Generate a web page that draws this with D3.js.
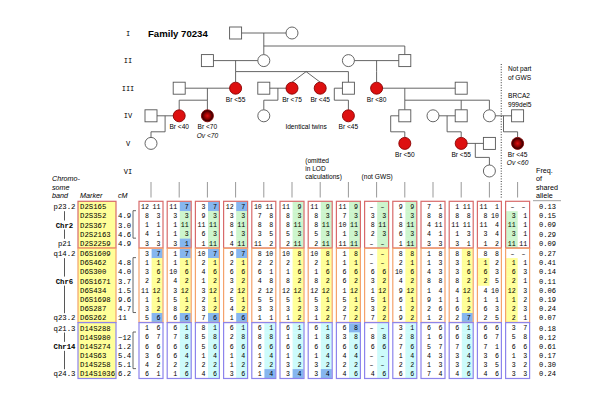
<!DOCTYPE html>
<html><head><meta charset="utf-8">
<script src="https://cdn.jsdelivr.net/npm/d3@7"></script>
<style>body{margin:0;background:#fff}</style>
</head><body>
<svg id="c" width="600" height="400"></svg>
<script>
// ---------------- DATA ----------------
const generations = ["I","II","III","IV","V","VI"];
// [id, generation, slot, sex, status(0 none,1 breast,2 breast+ovarian), label]
const individuals = [
  ["I-1",1,3,"m",0,""],["I-2",1,5,"f",0,""],
  ["II-1",2,2,"m",0,""],["II-2",2,4,"f",0,""],["II-3",2,7,"f",0,""],["II-4",2,9,"m",0,""],
  ["III-1",3,1,"m",0,""],["III-2",3,3,"f",1,"Br <55"],["III-3",3,4,"m",0,""],["III-4",3,5,"f",1,"Br <75"],
  ["III-5",3,6,"f",1,"Br <45"],["III-6",3,7,"m",0,""],["III-7",3,8,"f",1,"Br <80"],["III-8",3,11,"m",0,""],
  ["IV-1",4,0,"m",0,""],["IV-2",4,1,"f",1,"Br <40"],["IV-3",4,2,"f",2,"Br <70|Ov <70"],["IV-4",4,4,"f",0,""],
  ["IV-5",4,7,"f",1,"Br <45"],["IV-6",4,9,"m",0,""],["IV-7",4,10,"f",0,""],["IV-8",4,11,"m",0,""],
  ["IV-9",4,12,"f",0,""],["IV-10",4,13,"m",0,""],
  ["V-1",5,0,"f",0,""],["V-2",5,9,"f",1,"Br <50"],["V-3",5,11,"f",1,"Br <55"],["V-4",5,12,"m",0,""],
  ["V-5",5,13,"f",2,"Br <45|Ov <60"],
  ["VI-1",6,12,"f",0,""]
];
const marriages = [["I-1","I-2"],["II-1","II-2"],["II-3","II-4"],["III-1","III-2"],["III-3","III-4"],
  ["III-7","III-8"],["IV-1","IV-2"],["IV-7","IV-8"],["IV-9","IV-10"],["V-3","V-4"]];
// [parent generation, drop slot, children, single parent (stub) id]
const descents = [
  [1,4,["II-2","II-4"],null],
  [2,3,["III-2","III-4","III-5","III-6"],null],
  [2,8,["III-7"],null],
  [3,2,["IV-2","IV-3"],null],
  [3,4.5,["IV-4"],null],
  [3,6.5,["IV-5"],"III-6"],
  [3,9,["IV-6","IV-8","IV-9"],null],
  [4,0.5,["V-1"],null],
  [4,8.5,["V-2"],"IV-6"],
  [4,10.5,["V-3"],null],
  [4,12.5,["V-5"],null],
  [5,11.5,["VI-1"],null]
];
const twins = [["III-4","III-5"]];

const markers = ["D2S165","D2S352","D2S367","D2S2163","D2S2259",
  "D6S1609","D6S462","D6S300","D6S1671","D6S434","D6S1698","D6S287","D6S262",
  "D14S288","D14S980","D14S274","D14S63","D14S258","D14S1036"];
const markerChr = [0,0,0,0,0,1,1,1,1,1,1,1,1,2,2,2,2,2,2];
const cM = ["","4.9","3.0","4.6","4.9","","4.8","4.0","3.7","1.5","9.6","4.7","11","","~12","1.2","5.4","5.1","6.2"];
const chromosomes = ["Chr2","Chr6","Chr14"];
const chrLabelRow = [2,8,15];
const bandTop = ["p23.2","q14.2","q21.3"];
const bandBottom = ["p21","q23.2","q24.3"];
const freq = ["0.13","0.15","0.09","0.29","0.09","0.27","0.41","0.14","0.11","0.06","0.19","0.24","0.07",
  "0.18","0.12","0.61","0.17","0.30","0.24"];
// genotypes per typed individual (column), one entry per marker
const genotypes = [
 "12 11,8 3,1 1,4 1,3 3,3 7,1 1,3 6,2 2,11 12,1 1,3 2,5 6,1 6,6 7,6 6,3 6,4 2,6 1",
 "11 7,3 3,1 11,1 3,3 1,1 7,1 1,10 6,4 2,3 12,5 1,8 2,6 6,6 1,7 8,6 6,6 4,2 2,1 6",
 "3 7,9 3,11 11,6 3,1 11,10 7,2 1,4 6,1 2,3 12,2 1,3 2,7 6,8 1,5 8,5 6,1 4,2 2,4 6",
 "12 7,3 3,8 11,1 3,4 11,9 7,2 1,6 6,3 2,2 12,5 1,4 2,1 6,6 1,2 8,6 6,1 4,1 2,3 6",
 "10 11,7 8,8 8,3 5,11 2,8 10,2 2,6 1,4 8,2 12,5 5,3 3,1 1,6 1,8 8,6 6,1 4,2 2,1 4",
 "11 9,8 3,8 11,5 3,2 11,10 8,2 1,1 6,8 2,12 12,5 1,3 2,1 2,6 1,1 8,6 6,1 4,3 2,3 4",
 "11 9,8 3,8 11,5 3,2 11,10 8,2 1,1 6,8 2,12 12,5 1,3 2,1 2,6 1,1 8,6 6,1 4,3 2,3 4",
 "11 9,7 3,10 11,1 3,11 11,1 8,1 1,6 6,6 2,1 12,5 1,2 2,7 2,6 8,3 8,6 6,4 4,2 2,4 6",
 "- -,3 3,8 11,2 3,- -,- -,- -,6 6,3 2,1 12,5 1,3 2,7 2,- -,8 8,6 6,- -,- -,4 6",
 "9 9,1 3,8 11,6 3,1 11,8 8,2 1,10 6,4 2,9 12,6 1,1 2,9 2,3 1,2 8,7 6,1 4,2 2,6 6",
 "7 1,8 8,4 11,4 1,3 3,1 8,1 3,4 3,8 8,1 4,9 1,2 6,1 2,6 6,1 6,5 7,4 3,1 3,7 4",
 "1 11,8 8,11 11,1 3,3 1,8 8,3 1,3 6,8 2,4 12,1 1,6 2,2 7,6 1,6 8,7 6,3 4,3 2,4 6",
 "11 1,8 10,11 4,3 4,1 2,8 8,1 2,6 3,2 5,4 10,1 1,6 3,2 5,6 6,6 7,7 1,3 6,3 5,4 6",
 "- -,3 1,11 1,3 1,11 11,- -,1 1,6 3,2 1,12 3,1 2,2 3,2 1,3 7,5 8,6 6,1 3,3 2,3 3"
];
// shared-allele shading: lower case = right allele, upper case = left allele
// b blue, g green, y yellow, c cyan
const shading = [
 ".....byyyyyyb......",
 "bgggbbyyyyyybcccccc",
 "bggggbyyyyyybcccccc",
 "bggggbyyyyyybcccccc",
 ".............cccccb",
 "gggggyyyyyyyycccccb",
 "gggggyyyyyyyycccccb",
 "gggggyyyyyyyybccccc",
 "gggggyyyyyyyycccccc",
 "gggggyyyyyyyycccccc",
 "...................",
 ".....yyyyyyybcccccc",
 "......YYY..........",
 ".GGGG.YYYYYYY......"
];
const columnNotes = [[6,["(omitted","in LOD","calculations)"]],[8,["(not GWS)"]]];

// ---------------- LAYOUT ----------------
const svg = d3.select("#c");
const x = d3.scaleLinear().domain([0,13]).range([151,517.6]);
const yG = d3.scaleLinear().domain([1,6]).range([33,171]);
const sibOffset = {1:13,2:11,3:12,4:16,5:14};
const rowPos = markers.map((m,i)=> i + markerChr[i]*0.13);
const yR = d3.scaleLinear().domain([0,18.26]).range([206.7,206.7+18.26*9.15]);
const yRow = i => yR(rowPos[i]);
const S = 12, R = 6;
const lineCol = "#555";
const chrCol = ["#d86a6a","#f4a26c","#8d84ec"];
const fillCol = {b:"#86b6ef",g:"#cdf5cd",y:"#ffff99",c:"#cdfbfb"};
const sans = "'Liberation Sans', Arial, sans-serif";
const mono = "'Liberation Mono', 'DejaVu Sans Mono', monospace";

const defs = svg.append("defs");
const rg = defs.append("radialGradient").attr("id","dark");
rg.append("stop").attr("offset","0%").attr("stop-color","#e01010");
rg.append("stop").attr("offset","55%").attr("stop-color","#8a0000");
rg.append("stop").attr("offset","100%").attr("stop-color","#1a0000");

const byId = {};
individuals.forEach(d=>{byId[d[0]] = {id:d[0],gen:d[1],slot:d[2],sex:d[3],st:d[4],label:d[5]};});
const px = p => x(p.slot), py = p => yG(p.gen);

const gl = svg.append("g").attr("stroke",lineCol).attr("stroke-width",0.9).attr("fill","none");
marriages.forEach(([a,b])=>{
  const A=byId[a], B=byId[b];
  gl.append("line").attr("x1",px(A)).attr("x2",px(B)).attr("y1",py(A)).attr("y2",py(B));
});
const twinSet = {};
twins.forEach(t=>t.forEach(id=>twinSet[id]=t));
descents.forEach(([g,ds,kids,stub])=>{
  const y0 = yG(g), ys = y0 + sibOffset[g];
  if(stub){ gl.append("line").attr("x1",px(byId[stub])).attr("x2",x(ds)).attr("y1",y0).attr("y2",y0); }
  gl.append("line").attr("x1",x(ds)).attr("x2",x(ds)).attr("y1",y0).attr("y2",ys);
  const slots = [ds];
  const done = {};
  kids.forEach(k=>{
    const K = byId[k];
    if(twinSet[k]){
      const t = twinSet[k]; const key=t.join();
      const apex = d3.mean(t,id=>byId[id].slot);
      slots.push(apex);
      if(!done[key]){ done[key]=1;
        t.forEach(id=>{const T=byId[id];
          gl.append("line").attr("x1",x(apex)).attr("y1",ys).attr("x2",px(T)).attr("y2",py(T)-R);});
      }
    } else {
      slots.push(K.slot);
      gl.append("line").attr("x1",px(K)).attr("x2",px(K)).attr("y1",ys).attr("y2",py(K)-R);
    }
  });
  gl.append("line").attr("x1",x(d3.min(slots))).attr("x2",x(d3.max(slots))).attr("y1",ys).attr("y2",ys);
});
Object.values(byId).forEach(p=>{
  const fill = p.st===0 ? "#fff" : p.st===1 ? "#dd1010" : "url(#dark)";
  const stroke = p.st===0 ? lineCol : "#8a0000";
  if(p.sex==="m"){
    svg.append("rect").attr("x",px(p)-S/2).attr("y",py(p)-S/2).attr("width",S).attr("height",S)
      .attr("fill",fill).attr("stroke",stroke).attr("stroke-width",0.9);
  } else {
    svg.append("circle").attr("cx",px(p)).attr("cy",py(p)).attr("r",R)
      .attr("fill",fill).attr("stroke",stroke).attr("stroke-width",0.9);
  }
  if(p.label){
    p.label.split("|").forEach((t,i)=>{
      svg.append("text").attr("x",px(p)).attr("y",py(p)+13.3+i*8.7).attr("text-anchor","middle")
        .attr("font-family",sans).attr("font-size",6.6).attr("font-style",t.startsWith("Ov")?"italic":"normal")
        .text(t);
    });
  }
});
svg.append("text").attr("x",x(5.5)).attr("y",yG(4)+13.3).attr("text-anchor","middle")
  .attr("font-family",sans).attr("font-size",6.6).text("Identical twins");
generations.forEach((g,i)=>{
  svg.append("text").attr("x",128).attr("y",yG(i+1)+2.5).attr("text-anchor","middle")
    .attr("font-family",mono).attr("font-size",7).text(g);
});
svg.append("text").attr("x",148).attr("y",37).attr("font-family",sans).attr("font-weight","bold")
  .attr("font-size",9.6).text("Family 70234");
svg.append("line").attr("x1",x(12.42)).attr("x2",x(12.42)).attr("y1",64).attr("y2",199)
  .attr("stroke","#222").attr("stroke-width",0.9).attr("stroke-dasharray","1,1.6");
[["Not part",71],["of GWS",80],["BRCA2",98],["999del5",107]].forEach(([t,yy])=>{
  svg.append("text").attr("x",508).attr("y",yy).attr("font-family",sans).attr("font-size",6.6).text(t);
});

// ---------------- TABLE ----------------
genotypes.forEach((g,c)=>{
  svg.append("line").attr("x1",x(c)).attr("x2",x(c)).attr("y1",182).attr("y2",197.5)
    .attr("stroke","#999").attr("stroke-width",1);
});
columnNotes.forEach(([c,lines])=>{
  lines.forEach((t,i)=>{
    svg.append("text").attr("x",x(c)-15).attr("y",179-(lines.length-1-i)*8.2)
      .attr("font-family",sans).attr("font-size",6.6).text(t);
  });
});
[["Chromo-",181],["some",189.5],["band",198]].forEach(([t,yy])=>{
  svg.append("text").attr("x",52).attr("y",yy).attr("font-family",sans).attr("font-style","italic")
    .attr("font-size",7.2).text(t);
});
svg.append("text").attr("x",80).attr("y",198).attr("font-family",sans).attr("font-style","italic").attr("font-size",7.2).text("Marker");
svg.append("text").attr("x",118).attr("y",198).attr("font-family",sans).attr("font-style","italic").attr("font-size",7.2).text("cM");
[["Freq.",172.5],["of",181],["shared",189.5],["allele",198]].forEach(([t,yy])=>{
  svg.append("text").attr("x",536).attr("y",yy).attr("font-family",sans).attr("font-size",7.2).text(t);
});
svg.append("line").attr("x1",533).attr("x2",561).attr("y1",200.7).attr("y2",200.7).attr("stroke","#888").attr("stroke-width",0.8);

const groups = chromosomes.map((c,gi)=>{
  const idx = markers.map((m,i)=>i).filter(i=>markerChr[i]===gi);
  return {gi, first:d3.min(idx), last:d3.max(idx)};
});
const gTop = g => yRow(g.first)-5.4, gBot = g => yRow(g.last)+4.7;

groups.forEach(g=>{
  svg.append("rect").attr("x",78).attr("y",gTop(g)).attr("width",38).attr("height",gBot(g)-gTop(g))
    .attr("fill","#ffff99").attr("stroke",chrCol[g.gi]).attr("stroke-width",1.2);
});
markers.forEach((m,i)=>{
  svg.append("text").attr("x",80).attr("y",yRow(i)).attr("dy","0.35em").attr("font-family",mono)
    .attr("font-size",7.3).text(m);
  if(cM[i]) svg.append("text").attr("x",118).attr("y",yRow(i)).attr("dy","0.35em").attr("font-family",mono)
    .attr("font-size",7.3).text(cM[i]);
  svg.append("text").attr("x",539).attr("y",yRow(i)).attr("dy","0.35em").attr("font-family",mono)
    .attr("font-size",7.1).text(freq[i]);
});
groups.forEach(g=>{
  const y1 = yRow(g.first)+4, y2 = yRow(g.last-1)+4;
  svg.append("path").attr("d",`M136,${y1}H133V${y2}H136`).attr("fill","none").attr("stroke","#555").attr("stroke-width",0.9);
  const yt = yRow(g.first), yb = yRow(g.last), yc = yRow(chrLabelRow[g.gi]);
  svg.append("text").attr("x",64.5).attr("y",yt).attr("dy","0.35em").attr("text-anchor","middle").attr("font-family",mono).attr("font-size",7.3).text(bandTop[g.gi]);
  svg.append("text").attr("x",64.5).attr("y",yb).attr("dy","0.35em").attr("text-anchor","middle").attr("font-family",mono).attr("font-size",7.3).text(bandBottom[g.gi]);
  svg.append("text").attr("x",64.5).attr("y",yc).attr("dy","0.35em").attr("text-anchor","middle").attr("font-family",mono).attr("font-weight","bold").attr("font-size",7.3).text(chromosomes[g.gi]);
  svg.append("line").attr("x1",64.5).attr("x2",64.5).attr("y1",yt+4.5).attr("y2",yc-4.5).attr("stroke","#444").attr("stroke-width",0.9);
  svg.append("line").attr("x1",64.5).attr("x2",64.5).attr("y1",yc+4.5).attr("y2",yb-4.5).attr("stroke","#444").attr("stroke-width",0.9);
});
genotypes.forEach((col,c)=>{
  const cx = x(c);
  const rows = col.split(",");
  const sh = shading[c];
  rows.forEach((gt,i)=>{
    const s = sh[i];
    if(s!=="."){
      const right = s===s.toLowerCase();
      svg.append("rect").attr("x",right?cx+0.6:cx-11.5).attr("y",yRow(i)-4.7)
        .attr("width",right?11:11.6).attr("height",9.4).attr("fill",fillCol[s.toLowerCase()]);
    }
    const [a,b] = gt.split(" ");
    svg.append("text").attr("x",a==="-"?cx-5:cx-2).attr("y",yRow(i)).attr("dy","0.35em")
      .attr("text-anchor",a==="-"?"middle":"end").attr("font-family",mono).attr("font-size",6.6)
      .text(a==="-"?"–":a);
    svg.append("text").attr("x",b==="-"?cx+6:cx+9.5).attr("y",yRow(i)).attr("dy","0.35em")
      .attr("text-anchor",b==="-"?"middle":"end").attr("font-family",mono).attr("font-size",6.6)
      .text(b==="-"?"–":b);
  });
  groups.forEach(g=>{
    svg.append("rect").attr("x",cx-12).attr("y",gTop(g)).attr("width",24).attr("height",gBot(g)-gTop(g))
      .attr("fill","none").attr("stroke",chrCol[g.gi]).attr("stroke-width",1.2);
  });
});
</script>
</body></html>
